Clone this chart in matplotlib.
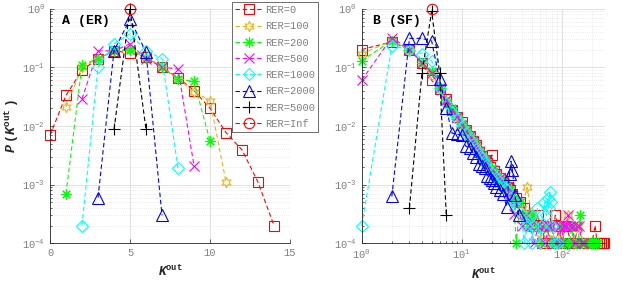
import matplotlib.pyplot as plt
import numpy as np

plt.rcParams['font.family'] = ['Liberation Mono', 'DejaVu Sans']
plt.rcParams['mathtext.fontset'] = 'custom'
plt.rcParams['mathtext.rm'] = 'Liberation Mono'
plt.rcParams['mathtext.it'] = 'Liberation Mono:italic'
plt.rcParams['mathtext.bf'] = 'Liberation Mono:bold'
plt.rcParams['mathtext.bfit'] = 'Liberation Mono:bold:italic'

# legend / series labels
labels = ['RER=0', 'RER=100', 'RER=200', 'RER=500', 'RER=1000', 'RER=2000', 'RER=5000', 'RER=Inf']

# panel A (ER): out-degree distributions
er_k = [
    [0, 1, 2, 3, 4, 5, 6, 7, 8, 9, 10, 11, 12, 13, 14],
    [1, 2, 3, 4, 5, 6, 7, 8, 9, 10, 11],
    [1, 2, 3, 4, 5, 6, 7, 8, 9, 10],
    [2, 3, 4, 5, 6, 7, 8, 9],
    [2, 3, 4, 5, 6, 7, 8],
    [3, 4, 5, 6, 7],
    [4, 5, 6],
    [5],
]
er_p = [
    [0.0069, 0.033, 0.089, 0.14, 0.19, 0.175, 0.15, 0.10, 0.066, 0.04, 0.02, 0.0077, 0.0039, 0.0011, 0.0002],
    [0.021, 0.10, 0.14, 0.19, 0.20, 0.15, 0.10, 0.064, 0.038, 0.027, 0.0011],
    [0.0007, 0.11, 0.14, 0.19, 0.20, 0.145, 0.10, 0.062, 0.058, 0.0055],
    [0.029, 0.19, 0.19, 0.25, 0.14, 0.10, 0.093, 0.0021],
    [0.0002, 0.10, 0.25, 0.37, 0.19, 0.14, 0.0019],
    [0.0006, 0.19, 0.66, 0.18, 0.0003],
    [0.0087, 1.0, 0.0087],
    [1.0],
]

# panel B (SF): out-degree distributions
sf_k = [
    [1, 2, 3, 4, 5, 6, 7, 8, 9, 10, 11, 12, 13, 14, 15, 16, 17, 18, 19, 20, 21, 22, 24, 26, 28, 30, 32, 35, 38,
     42, 47, 53, 58, 64, 70, 78, 86, 92, 100, 110, 125, 140, 160, 180, 200, 215, 225, 235, 245, 255, 262],
    [1, 2, 3, 4, 5, 6, 7, 8, 9, 10, 11, 12, 13, 14, 15, 16, 17, 18, 20, 22, 24, 26, 28, 30, 33, 36, 40,
     45, 50, 55, 60, 65, 70, 75, 80, 85, 90, 95, 100, 108, 116, 125, 135, 145, 155, 170, 185, 200],
    [1, 2, 3, 4, 5, 6, 7, 8, 9, 10, 11, 12, 13, 14, 15, 16, 17, 18, 20, 22, 24, 26, 28, 30, 33,
     35, 38, 42, 46, 50, 56, 62, 70, 80, 90, 100, 105, 110, 115, 120, 125, 130, 135, 140, 146, 152, 160,
     170, 180, 190, 200, 210, 220, 230],
    [1, 2, 3, 4, 5, 6, 7, 8, 9, 10, 11, 12, 13, 14, 15, 16, 17, 18, 20, 22, 24, 26, 28, 30,
     33, 36, 40, 44, 48, 53, 58, 63, 68, 74, 80, 87, 95, 100, 104, 110, 116, 122, 128, 135, 142, 150, 158, 165],
    [1, 2, 3, 4, 5, 6, 7, 8, 9, 10, 11, 12, 13, 14, 15, 16, 17, 18, 20, 22, 24, 26, 28, 30,
     33, 36, 40, 42, 44, 48, 50, 52, 57, 60, 62, 67, 70, 72, 74, 76, 78, 80, 86, 92],
    [2, 3, 4, 5, 6, 7, 8, 9, 10, 11, 12, 13, 14, 15, 16, 17, 18, 19, 20, 21, 22, 24, 26, 28, 30, 31, 32, 34, 37],
    [3, 4, 5, 6, 7],
    [5],
]
sf_p = [
    [0.20, 0.27, 0.20, 0.12, 0.060, 0.042, 0.029, 0.019, 0.014, 0.0115, 0.0085, 0.0068, 0.0056, 0.0047, 0.0036,
     0.0031, 0.0026, 0.0023, 0.0020, 0.0032, 0.0017, 0.0015, 0.0013, 0.0011, 0.00092, 0.0008, 0.0007, 0.0006,
     0.0005, 0.0004, 0.0003, 0.0002, 0.0003, 0.0001, 0.0002, 0.0001, 0.0003, 0.0002, 0.0001, 0.0002, 0.0001,
     0.0001, 0.0001, 0.0001, 0.0001, 0.0002, 0.0001, 0.0001, 0.0001, 0.0001, 0.0001],
    [0.17, 0.28, 0.20, 0.12, 0.075, 0.042, 0.027, 0.019, 0.014, 0.010, 0.0085, 0.007, 0.0056, 0.0046, 0.0038,
     0.0031, 0.0027, 0.0023, 0.0019, 0.0016, 0.0013, 0.0011, 0.0009, 0.0008, 0.0006, 0.0005, 0.0004,
     0.0009, 0.0003, 0.0002, 0.0001, 0.0002, 0.0001, 0.0002, 0.0001, 0.0002, 0.0001, 0.0002, 0.0001, 0.0002,
     0.0003, 0.0002, 0.0001, 0.0002, 0.0001, 0.0001, 0.0001, 0.0001],
    [0.13, 0.28, 0.20, 0.12, 0.085, 0.044, 0.028, 0.020, 0.015, 0.011, 0.0088, 0.007, 0.0058, 0.0047, 0.0039,
     0.0032, 0.0027, 0.0023, 0.0019, 0.0016, 0.0013, 0.0011, 0.00095, 0.0008, 0.0006,
     0.0001, 0.0005, 0.0003, 0.0002, 0.0003, 0.0002, 0.0001, 0.0002, 0.0001, 0.0001, 0.0002, 0.0001, 0.0001,
     0.0001, 0.0001, 0.0002, 0.0001, 0.0001, 0.0001, 0.0001, 0.0003, 0.0001, 0.0001, 0.0001, 0.0001, 0.0001,
     0.0001, 0.0001, 0.0001],
    [0.06, 0.32, 0.20, 0.12, 0.08, 0.045, 0.028, 0.019, 0.014, 0.0105, 0.0083, 0.0068, 0.0055, 0.0046, 0.0037,
     0.0032, 0.0026, 0.0022, 0.0018, 0.0015, 0.0013, 0.0011, 0.0009, 0.0007,
     0.00032, 0.0005, 0.0002, 0.0003, 0.0002, 0.0001, 0.0002, 0.0002, 0.0001, 0.0002, 0.0002, 0.0001, 0.0002,
     0.0001, 0.0002, 0.0002, 0.0003, 0.0002, 0.0002, 0.0001, 0.0002, 0.0002, 0.0001, 0.0001],
    [0.0002, 0.23, 0.20, 0.17, 0.13, 0.045, 0.025, 0.017, 0.013, 0.0095, 0.0075, 0.006, 0.0049, 0.004, 0.0033,
     0.0028, 0.0023, 0.0019, 0.0016, 0.0013, 0.0011, 0.0009, 0.0008, 0.0006,
     0.0005, 0.0004, 0.0003, 0.0001, 0.0002, 0.0003, 0.0001, 0.0002, 0.0004, 0.0001, 0.0002, 0.0005, 0.0003,
     0.0006, 0.0004, 0.00075, 0.0005, 0.0002, 0.0001, 0.0001],
    [0.00063, 0.31, 0.31, 0.28, 0.062, 0.020, 0.0075, 0.0072, 0.007, 0.0045, 0.0042, 0.0034, 0.003, 0.0022,
     0.0021, 0.0019, 0.0014, 0.0013, 0.0012, 0.00105, 0.0009, 0.0008, 0.0007, 0.00042, 0.0015, 0.0025, 0.0018,
     0.00066, 0.0003],
    [0.0004, 0.08, 0.9, 0.08, 0.0003],
    [1.0],
]

colors = ['#ff0000', '#edb120', '#00ff00', '#ff00ff', '#00ffff', '#0000ff', '#000000', '#ff0000']
markers = ['s', (6, 1, 0), (8, 2, 0), 'x', 'D', '^', '+', 'o']
msizes = [6.5, 7.5, 7.5, 6.5, 6.5, 9, 9, 7.5]

fig = plt.figure(figsize=(6.23, 2.83), dpi=100)
axA = fig.add_axes([50 / 623, 39.7 / 283, 240 / 623, 234.8 / 283])
axB = fig.add_axes([361.7 / 623, 39.7 / 283, 243.3 / 623, 234.8 / 283])

dash = (0, (4, 2.5))
handles = []
for i in range(len(labels)):
    h, = axA.plot(er_k[i], er_p[i], linestyle=dash, lw=0.8, color=colors[i], marker=markers[i],
                  ms=msizes[i], mfc='none', mew=0.8, label=labels[i], clip_on=False)
    handles.append(h)
    axB.plot(sf_k[i], sf_p[i], linestyle=dash, lw=0.8, color=colors[i], marker=markers[i],
             ms=msizes[i], mfc='none', mew=0.8, clip_on=False)

for ax in (axA, axB):
    ax.set_yscale('log')
    ax.set_ylim(1e-4, 1)
    ax.grid(True, which='major', color='#dcdcdc', lw=0.6, ls='-')
    ax.grid(True, which='minor', color='#dcdcdc', lw=0.5, ls=':')
    ax.set_axisbelow(True)
    ax.spines['top'].set_visible(False)
    ax.spines['right'].set_visible(False)
    for s in ('left', 'bottom'):
        ax.spines[s].set_color('#262626')
        ax.spines[s].set_linewidth(0.6)
    ax.tick_params(which='both', direction='in', colors='#262626', labelcolor='#808080', labelsize=7.5,
                   width=0.5)
    ax.tick_params(which='major', length=3)
    ax.tick_params(which='minor', length=1.5)
    ax.set_xlabel(r'$\mathbfit{K}^{\mathbf{out}}$', fontsize=9, color='#262626', labelpad=4)

axA.set_xlim(0, 15)
axA.set_xticks([0, 5, 10, 15])
axA.grid(False, which='minor', axis='x')
axA.set_ylabel(r'$\mathbfit{P}\ \mathbf{(}\mathbfit{K}^{\mathbf{out}}\ \mathbf{)}$', fontsize=9.5,
               color='#262626')
axA.yaxis.set_label_coords(-0.12, 0.5)
axB.set_xscale('log')
axB.set_xlim(1, 270)

axA.text(0.05, 0.945, 'A (ER)', transform=axA.transAxes, fontsize=9.5, fontweight='bold', va='center')
axB.text(0.048, 0.945, 'B (SF)', transform=axB.transAxes, fontsize=9.5, fontweight='bold', va='center')

leg = fig.legend(handles=handles, loc='upper left', bbox_to_anchor=(232 / 623, 1 - 2 / 283),
                 bbox_transform=fig.transFigure, fontsize=7.5, frameon=True, fancybox=False,
                 edgecolor='#555555', framealpha=1, borderaxespad=0, handlelength=2.6,
                 labelspacing=0.6, borderpad=0.3, handletextpad=0.3)
leg.get_frame().set_linewidth(0.6)
for t in leg.get_texts():
    t.set_color('#808080')

plt.savefig('out.png', dpi=100)
plt.close()
